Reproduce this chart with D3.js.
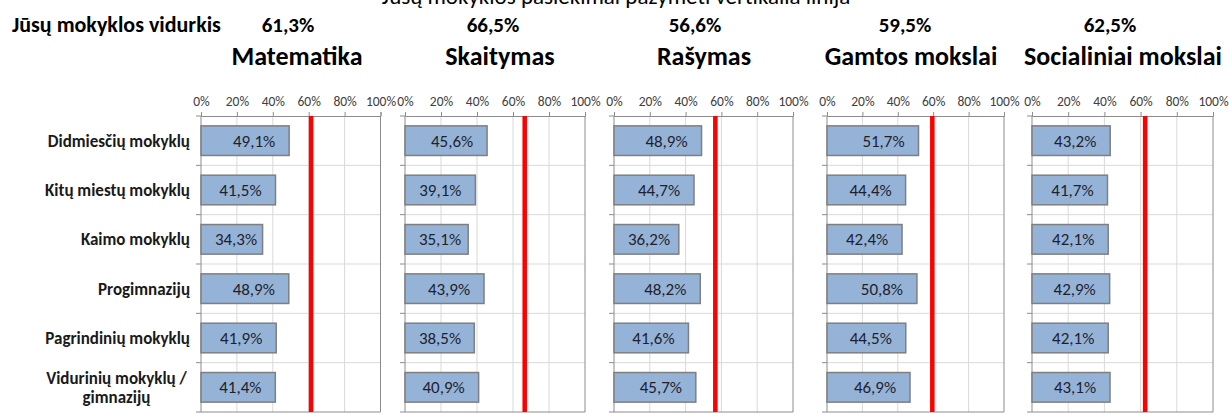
<!DOCTYPE html>
<html>
<head>
<meta charset="utf-8">
<script src="https://cdn.jsdelivr.net/npm/d3@7"></script>
<style>
  html, body { margin: 0; padding: 0; background: #fff; }
  svg { display: block; }
  text { font-family: Carlito, Calibri, Lato, "Noto Sans", sans-serif; }
</style>
</head>
<body>
<svg id="chart" width="1229" height="414"></svg>
<script>
// ---------- DATA ----------
const categories = ["Didmiesčių mokyklų", "Kitų miestų mokyklų", "Kaimo mokyklų", "Progimnazijų", "Pagrindinių mokyklų", "Vidurinių mokyklų / gimnazijų"];
const subjects = ["Matematika", "Skaitymas", "Rašymas", "Gamtos mokslai", "Socialiniai mokslai"];
const schoolAverage = [61.3, 66.5, 56.6, 59.5, 62.5];
const matematika = [49.1, 41.5, 34.3, 48.9, 41.9, 41.4];
const skaitymas = [45.6, 39.1, 35.1, 43.9, 38.5, 40.9];
const rasymas = [48.9, 44.7, 36.2, 48.2, 41.6, 45.7];
const gamtosMokslai = [51.7, 44.4, 42.4, 50.8, 44.5, 46.9];
const socialiniaiMokslai = [43.2, 41.7, 42.1, 42.9, 42.1, 43.1];
const tickValues = [0, 20, 40, 60, 80, 100];
const subtitle = "Jūsų mokyklos pasiekimai pažymėti vertikalia linija";
const avgLabel = "Jūsų mokyklos vidurkis";

const series = [matematika, skaitymas, rasymas, gamtosMokslai, socialiniaiMokslai];

// ---------- LAYOUT ----------
const panelLeft = [201, 405, 614, 827, 1032];
const panelRight = [380.5, 585, 793, 1004, 1213];
const avgCenters = [288, 493, 695, 905, 1110];
const titleCenters = [297, 500, 704, 911, 1123];
const plotTop = 116, plotBottom = 412;

const fmt = v => d3.format(".1f")(v).replace(".", ",") + "%";

const svg = d3.select("#chart");

svg.append("text")
  .attr("x", 616).attr("y", 4)
  .attr("text-anchor", "middle")
  .attr("font-size", 23)
  .attr("fill", "#000")
  .text(subtitle);

svg.append("text")
  .attr("x", 12).attr("y", 32)
  .attr("font-size", 22).attr("font-weight", "bold")
  .attr("fill", "#000")
  .text(avgLabel);

const y = d3.scaleBand().domain(categories).range([plotTop, plotBottom]).paddingInner(0.4).paddingOuter(0.2);
const yEdges = d3.scaleLinear().domain([0, categories.length]).range([plotTop, plotBottom]);

// Category labels
const catG = svg.append("g");
categories.forEach((c, i) => {
  const cy = y(c) + y.bandwidth() / 2;
  if (c.includes(" / ")) {
    const parts = c.split(" / ");
    const lines = [parts[0] + " /", parts[1]];
    const t = catG.append("text")
      .attr("x", 116.5).attr("text-anchor", "middle")
      .attr("font-size", 17).attr("font-weight", "bold").attr("fill", "#1a1a1a");
    lines.forEach((l, k) => {
      t.append("tspan").attr("x", 116.5).attr("y", cy - 3 + k * 19).text(l);
    });
  } else {
    catG.append("text")
      .attr("x", 190).attr("y", cy + 6)
      .attr("text-anchor", "end")
      .attr("font-size", 17).attr("font-weight", "bold").attr("fill", "#1a1a1a")
      .text(c);
  }
});

subjects.forEach((s, p) => {
  const x = d3.scaleLinear().domain([0, 100]).range([panelLeft[p], panelRight[p]]);
  const g = svg.append("g");

  // school average value & subject title
  svg.append("text")
    .attr("x", avgCenters[p]).attr("y", 32)
    .attr("text-anchor", "middle")
    .attr("font-size", 21).attr("font-weight", "bold").attr("fill", "#000")
    .text(fmt(schoolAverage[p]));
  svg.append("text")
    .attr("x", titleCenters[p]).attr("y", 65)
    .attr("text-anchor", "middle")
    .attr("font-size", 26).attr("font-weight", "600").attr("fill", "#000")
    .text(s);

  // vertical gridlines
  g.selectAll(".vg").data(tickValues.slice(1, -1)).enter().append("line")
    .attr("x1", d => x(d)).attr("x2", d => x(d))
    .attr("y1", plotTop).attr("y2", plotBottom)
    .attr("stroke", "#d9d9d9").attr("stroke-width", 1);

  // horizontal separators
  g.selectAll(".hg").data(d3.range(1, categories.length)).enter().append("line")
    .attr("x1", x(0)).attr("x2", x(100))
    .attr("y1", d => yEdges(d)).attr("y2", d => yEdges(d))
    .attr("stroke", "#d9d9d9").attr("stroke-width", 1);

  // frame (right & bottom)
  g.append("line").attr("x1", x(100)).attr("x2", x(100)).attr("y1", plotTop).attr("y2", plotBottom)
    .attr("stroke", "#8c8c8c").attr("stroke-width", 1);
  g.append("line").attr("x1", x(0)).attr("x2", x(100)).attr("y1", plotBottom).attr("y2", plotBottom)
    .attr("stroke", "#8c8c8c").attr("stroke-width", 1);

  // top axis
  const axTop = g.append("g").attr("transform", `translate(0,${plotTop})`)
    .call(d3.axisTop(x).tickValues(tickValues).tickSize(4).tickPadding(6).tickFormat(d => d + "%"));
  axTop.select(".domain").attr("stroke", "#8c8c8c");
  axTop.selectAll(".tick line").attr("stroke", "#8c8c8c");
  axTop.selectAll(".tick text").attr("font-family", "Carlito, Calibri, Lato, sans-serif")
    .attr("font-size", 13.5).attr("fill", "#404040");

  // left axis line with boundary ticks
  g.append("line").attr("x1", x(0)).attr("x2", x(0)).attr("y1", plotTop).attr("y2", plotBottom)
    .attr("stroke", "#8c8c8c").attr("stroke-width", 1);
  g.selectAll(".lt").data(d3.range(0, categories.length + 1)).enter().append("line")
    .attr("x1", x(0) - 5).attr("x2", x(0))
    .attr("y1", d => yEdges(d)).attr("y2", d => yEdges(d))
    .attr("stroke", "#8c8c8c").attr("stroke-width", 1);

  // bars
  const vals = series[p];
  g.selectAll(".bar").data(vals).enter().append("rect")
    .attr("x", x(0))
    .attr("y", (d, i) => y(categories[i]))
    .attr("width", d => x(d) - x(0))
    .attr("height", y.bandwidth())
    .attr("fill", "#95b3d7")
    .attr("stroke", "#7f7f7f").attr("stroke-width", 1.5);

  // value labels
  g.selectAll(".vl").data(vals).enter().append("text")
    .attr("x", d => Math.max(x(d) - 35, x(0) + 35))
    .attr("y", (d, i) => y(categories[i]) + y.bandwidth() / 2 + 6)
    .attr("text-anchor", "middle")
    .attr("font-size", 17).attr("fill", "#1f1f2e")
    .text(d => fmt(d));

  // school average line
  g.append("line")
    .attr("x1", x(schoolAverage[p])).attr("x2", x(schoolAverage[p]))
    .attr("y1", plotTop).attr("y2", plotBottom)
    .attr("stroke", "#ff0000").attr("stroke-width", 4.5);
});
</script>
</body>
</html>
